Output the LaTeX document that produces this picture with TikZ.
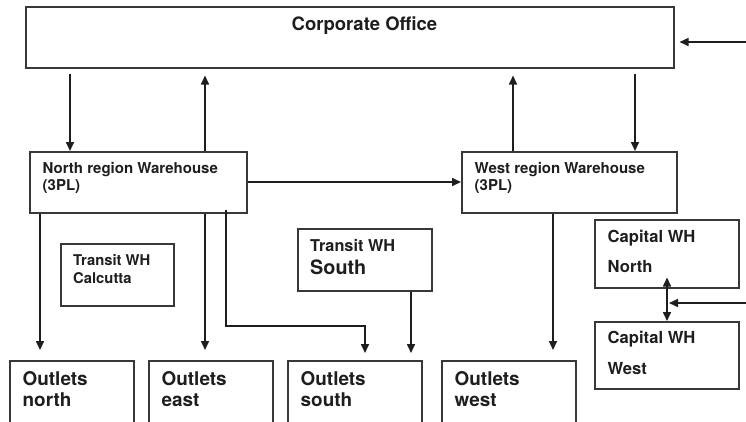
\documentclass[tikz,border=0pt]{standalone}
\usepackage{fontspec}
\setmainfont{TeX Gyre Heros}
\usetikzlibrary{arrows.meta,calc}
\definecolor{ink}{HTML}{1E1E1E}
\definecolor{edge}{HTML}{383838}
\tikzset{
  box/.style={draw=edge, line width=1.5pt, inner sep=0pt, anchor=north west, fill=white},
  txt/.style={anchor=base west, inner sep=0pt, text=ink, font=\bfseries},
  arr/.style={draw=ink, line width=1.6pt, -{Triangle[length=9pt,width=8pt]}},
  dbl/.style={draw=ink, line width=1.6pt, {Triangle[length=9pt,width=8pt]}-{Triangle[length=9pt,width=8pt]}},
}
\newcommand{\fs}[1]{\fontsize{#1}{#1}\selectfont}
\begin{document}
\begin{tikzpicture}[x=1pt,y=-1pt]
\useasboundingbox (0,0) rectangle (746,421);
\fill[white] (0,0) rectangle (746,421);
% boxes
\node[box, minimum width=648pt, minimum height=61pt] (co) at (25,6) {};
\node[box, minimum width=217pt, minimum height=61pt] (nwh) at (29,151) {};
\node[box, minimum width=215pt, minimum height=61pt] (wwh) at (461,151) {};
\node[box, minimum width=113pt, minimum height=62pt] (tc) at (60,243) {};
\node[box, minimum width=134pt, minimum height=62pt] (ts) at (297,228) {};
\node[box, minimum width=144pt, minimum height=68pt] (cn) at (594,219) {};
\node[box, minimum width=144pt, minimum height=67pt] (cw) at (594,321) {};
\node[box, minimum width=124pt, minimum height=70pt] (on) at (9,360) {};
\node[box, minimum width=124pt, minimum height=70pt] (oe) at (148,360) {};
\node[box, minimum width=134pt, minimum height=70pt] (os) at (287,360) {};
\node[box, minimum width=134pt, minimum height=70pt] (ow) at (441,360) {};
% texts
\node[txt, anchor=base, font=\bfseries\fs{18.5}] (tco) at (364.5,30.5) {Corporate Office};
\node[txt, font=\bfseries\fs{15}] (tn1) at (42.5,173.3) {North region Warehouse};
\node[txt, font=\bfseries\fs{15}] (tn2) at (42.5,190.5) {(3PL)};
\node[txt, font=\bfseries\fs{15}] (tw1) at (474.5,173.3) {West region Warehouse};
\node[txt, font=\bfseries\fs{15}] (tw2) at (474.5,190.5) {(3PL)};
\node[txt, font=\bfseries\fs{14.8}] (tc1) at (73,265.7) {Transit WH};
\node[txt, font=\bfseries\fs{14.8}] (tc2) at (73,283.3) {Calcutta};
\node[txt, font=\bfseries\fs{16.3}] (ts1) at (310,251.7) {Transit WH};
\node[txt, font=\bfseries\fs{19.8}] (ts2) at (310,274.5) {South};
\node[txt, font=\bfseries\fs{16.6}] (cn1) at (607.5,242.3) {Capital WH};
\node[txt, font=\bfseries\fs{16.6}] (cn2) at (607.5,272.7) {North};
\node[txt, font=\bfseries\fs{16.6}] (cw1) at (607.5,343.3) {Capital WH};
\node[txt, font=\bfseries\fs{16.6}] (cw2) at (607.5,374) {West};
\node[txt, font=\bfseries\fs{18.9}] (on1) at (22.5,385.7) {Outlets};
\node[txt, font=\bfseries\fs{18.9}] (on2) at (22.5,406.7) {north};
\node[txt, font=\bfseries\fs{18.9}] (oe1) at (161.5,385.7) {Outlets};
\node[txt, font=\bfseries\fs{18.9}] (oe2) at (161.5,406.7) {east};
\node[txt, font=\bfseries\fs{18.9}] (os1) at (300.5,385.7) {Outlets};
\node[txt, font=\bfseries\fs{18.9}] (os2) at (300.5,406.7) {south};
\node[txt, font=\bfseries\fs{18.9}] (ow1) at (454.5,385.7) {Outlets};
\node[txt, font=\bfseries\fs{18.9}] (ow2) at (454.5,406.7) {west};
% free ends
\coordinate (inCO) at (746,42);
\coordinate (inCap) at (746,303);
\coordinate (bend1) at (226,326);
\coordinate (bend2) at (365,326);
% connectors corporate <-> warehouses
\draw[arr] ([yshift=-5pt]co.south -| 70,0) -- (nwh.north -| 70,0);
\draw[arr] (nwh.north -| 205,0) -- ([yshift=-7pt]co.south -| 205,0);
\draw[arr] (wwh.north -| 513,0) -- ([yshift=-7pt]co.south -| 513,0);
\draw[arr] ([yshift=-5pt]co.south -| 635,0) -- (wwh.north -| 635,0);
\draw[arr] (inCO) -- ([xshift=5pt]co.east |- inCO);
% north -> west
\draw[arr] (nwh.east |- 0,182) -- (wwh.west |- 0,182);
% to outlets
\draw[arr] (nwh.south -| 40,0) -- ([yshift=10pt]on.north -| 40,0);
\draw[arr] (nwh.south -| 205,0) -- ([yshift=10pt]oe.north -| 205,0);
\draw[arr] ([yshift=4pt]nwh.south -| bend1) -- (bend1) -- (bend2) -- ([yshift=7pt]os.north -| bend2);
\draw[arr] (ts.south -| 411,0) -- ([yshift=7pt]os.north -| 411,0);
\draw[arr] (wwh.south -| 553,0) -- ([yshift=10pt]ow.north -| 553,0);
% capitals
\draw[dbl] ([yshift=11pt]cn.south -| 667,0) -- (cw.north -| 667,0);
\draw[arr] (inCap) -- (669,303);
\end{tikzpicture}
\end{document}
